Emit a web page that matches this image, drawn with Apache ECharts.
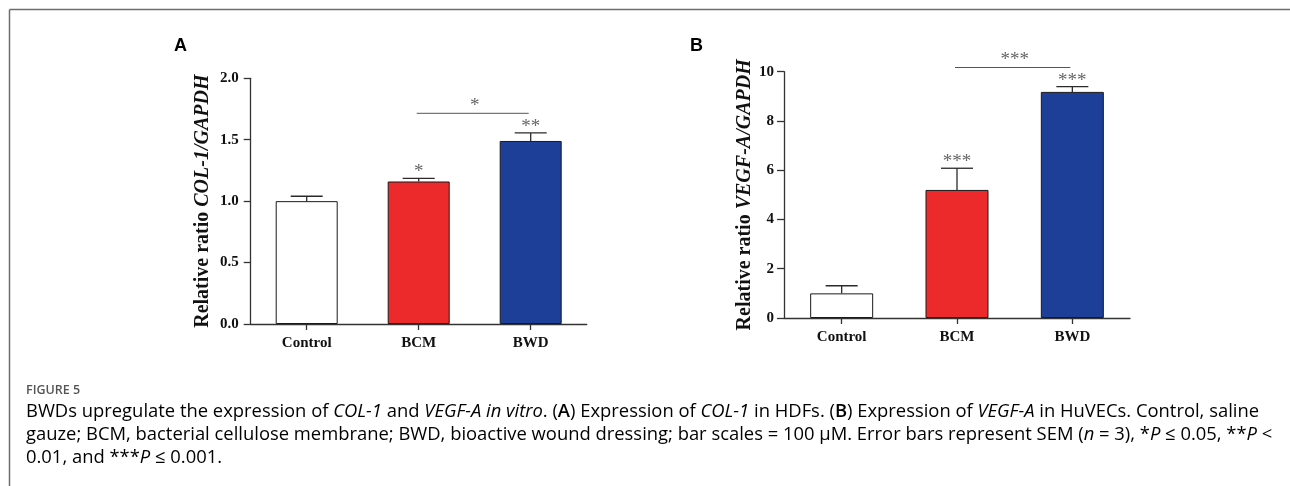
<!DOCTYPE html>
<html>
<head>
<meta charset="utf-8">
<script src="https://cdn.jsdelivr.net/npm/echarts@6/dist/echarts.min.js"></script>
<style>
html,body{margin:0;padding:0;background:#fff;}
#chart{width:1290px;height:486px;}
</style>
</head>
<body>
<div id="chart"></div>
<script>
// ---- data ----
const categories = ['Control', 'BCM', 'BWD'];
const barColors = ['#ffffff', '#ec2a2b', '#1e3f98'];

const colValues = [1.00, 1.16, 1.49];
const colErrors = [0.04, 0.025, 0.065];
const colStars = ['', '*', '**'];
const colBracket = [1, 2, 1.715, '*'];
const colTicks = [0, 2, 0.5];

const vegfValues = [1.00, 5.2, 9.18];
const vegfErrors = [0.31, 0.88, 0.21];
const vegfStars = ['', '***', '***'];
const vegfBracket = [1, 2, 10.17, '***'];
const vegfTicks = [0, 10, 2];

const SERIF = "'Liberation Serif', 'Times New Roman', serif";
const SANS = "'Open Sans', 'Noto Sans', sans-serif";

function barData(vals) {
  return vals.map((v, i) => ({
    value: v,
    itemStyle: { color: barColors[i], borderColor: '#1a1a1a', borderWidth: 1 }
  }));
}

const categoriesStars = { colErr: colStars, vegfErr: vegfStars };

function errRender(params, api) {
  const x = api.value(0), v = api.value(1), e = api.value(2);
  const star = categoriesStars[params.seriesName][params.dataIndex];
  const p0 = api.coord([x, v]);
  const p1 = api.coord([x, v + e]);
  const half = 16;
  const ls = { stroke: '#2a2a2a', lineWidth: 1.3 };
  const children = [
    { type: 'line', shape: { x1: p0[0], y1: p0[1], x2: p1[0], y2: p1[1] }, style: ls },
    { type: 'line', shape: { x1: p1[0] - half, y1: p1[1], x2: p1[0] + half, y2: p1[1] }, style: ls }
  ];
  if (star) {
    children.push({
      type: 'text',
      style: { text: star, x: p1[0], y: p1[1] - 6, align: 'center', verticalAlign: 'middle',
               font: '19px ' + SERIF, fill: '#666' }
    });
  }
  return { type: 'group', children };
}

function bracketRender(params, api) {
  const a = api.coord([api.value(0), api.value(2)]);
  const b = api.coord([api.value(1), api.value(2)]);
  const lbl = params.seriesName === 'colBr' ? colBracket[3] : vegfBracket[3];
  return {
    type: 'group',
    children: [
      { type: 'line', shape: { x1: a[0] - 2, y1: a[1], x2: b[0] - 2, y2: b[1] }, style: { stroke: '#555', lineWidth: 1 } },
      { type: 'text', style: { text: lbl, x: (a[0] + b[0]) / 2, y: a[1] - 7, align: 'center', verticalAlign: 'middle',
               font: '19px ' + SERIF, fill: '#666' } }
    ]
  };
}

const axisLineStyle = { color: '#333', width: 1.3 };

function yAxisCfg(gridIndex, ticks, title1, title2, gap, margin, fmt) {
  return {
    type: 'value', gridIndex, min: ticks[0], max: ticks[1], interval: ticks[2],
    splitLine: { show: false },
    axisLine: { show: true, lineStyle: axisLineStyle },
    axisTick: { show: true, length: 7, lineStyle: axisLineStyle },
    axisLabel: { color: '#111', fontFamily: SERIF, fontWeight: 'bold', fontSize: 15, margin, formatter: fmt },
    name: '{a|' + title1 + '}{b|' + title2 + '}',
    nameLocation: 'middle', nameRotate: 90, nameGap: gap,
    nameTextStyle: {
      rich: {
        a: { fontFamily: SERIF, fontWeight: 'bold', fontSize: 20, color: '#111' },
        b: { fontFamily: SERIF, fontWeight: 'bold', fontStyle: 'italic', fontSize: 20, color: '#111' }
      }
    }
  };
}

function xAxisCfg(gridIndex) {
  return {
    type: 'category', gridIndex, data: categories,
    axisLine: { show: true, lineStyle: axisLineStyle },
    axisTick: { show: true, alignWithLabel: true, length: 6, lineStyle: axisLineStyle },
    axisLabel: { color: '#111', fontFamily: SERIF, fontWeight: 'bold', fontSize: 15, margin: 12 }
  };
}

const CAP = 18.4;
const CAPCOL = '#5a5a5a';
const captionRich = {
  n: { fontFamily: SANS, fontSize: CAP, color: CAPCOL },
  i: { fontFamily: SANS, fontSize: CAP, color: CAPCOL, fontStyle: 'italic' },
  b: { fontFamily: SANS, fontSize: CAP, color: CAPCOL, fontWeight: 600 }
};

const option = {
  backgroundColor: '#fff',
  animation: false,
  grid: [
    { left: 250.7, top: 78.3, width: 336, height: 245.7 },
    { left: 784, top: 71.7, width: 346, height: 246.3 }
  ],
  xAxis: [xAxisCfg(0), xAxisCfg(1)],
  yAxis: [
    yAxisCfg(0, colTicks, 'Relative ratio ', 'COL-1/GAPDH', 38, 12, v => v.toFixed(1)),
    yAxisCfg(1, vegfTicks, 'Relative ratio ', 'VEGF-A/GAPDH', 27, 10, v => String(v))
  ],
  series: [
    { type: 'bar', xAxisIndex: 0, yAxisIndex: 0, barWidth: 62, data: barData(colValues) },
    { type: 'bar', xAxisIndex: 1, yAxisIndex: 1, barWidth: 63, data: barData(vegfValues) },
    { type: 'custom', name: 'colErr', xAxisIndex: 0, yAxisIndex: 0, renderItem: errRender,
      data: colValues.map((v, i) => [i, v, colErrors[i]]), z: 5 },
    { type: 'custom', name: 'vegfErr', xAxisIndex: 1, yAxisIndex: 1, renderItem: errRender,
      data: vegfValues.map((v, i) => [i, v, vegfErrors[i]]), z: 5 },
    { type: 'custom', name: 'colBr', xAxisIndex: 0, yAxisIndex: 0, renderItem: bracketRender,
      data: [colBracket.slice(0, 3)], z: 5 },
    { type: 'custom', name: 'vegfBr', xAxisIndex: 1, yAxisIndex: 1, renderItem: bracketRender,
      data: [vegfBracket.slice(0, 3)], z: 5 }
  ],
  graphic: [
    { type: 'line', shape: { x1: 9.5, y1: 9.5, x2: 1290, y2: 9.5 }, style: { stroke: '#6e6e6e', lineWidth: 1.5 } },
    { type: 'line', shape: { x1: 9.5, y1: 9.5, x2: 9.5, y2: 486 }, style: { stroke: '#6e6e6e', lineWidth: 1.5 } },
    { type: 'text', x: 174, y: 37, style: { text: 'A', font: 'bold 18px Arial, "Liberation Sans", sans-serif', fill: '#000' } },
    { type: 'text', x: 690, y: 37, style: { text: 'B', font: 'bold 18px Arial, "Liberation Sans", sans-serif', fill: '#000' } },
    { type: 'text', x: 26, y: 390, style: { text: 'FIGURE 5', font: '600 12.5px ' + SANS, fill: '#555', verticalAlign: 'middle' } },
    { type: 'text', x: 26, y: 412, style: {
        text: '{n|BWDs upregulate the expression of }{i|COL-1}{n| and }{i|VEGF-A in vitro}{n|. (}{b|A}{n|) Expression of }{i|COL-1}{n| in HDFs. (}{b|B}{n|) Expression of }{i|VEGF-A}{n| in HuVECs. Control, saline}',
        rich: captionRich, verticalAlign: 'middle' } },
    { type: 'text', x: 26, y: 435, style: {
        text: '{n|gauze; BCM, bacterial cellulose membrane; BWD, bioactive wound dressing; bar scales = 100 μM. Error bars represent SEM (}{i|n}{n| = 3), *}{i|P}{n| ≤ 0.05, **}{i|P}{n| <}',
        rich: captionRich, verticalAlign: 'middle' } },
    { type: 'text', x: 26, y: 458, style: {
        text: '{n|0.01, and ***}{i|P}{n| ≤ 0.001.}',
        rich: captionRich, verticalAlign: 'middle' } }
  ]
};

const chart = echarts.init(document.getElementById('chart'), null, { renderer: 'canvas' });
chart.setOption(option);
</script>
</body>
</html>
